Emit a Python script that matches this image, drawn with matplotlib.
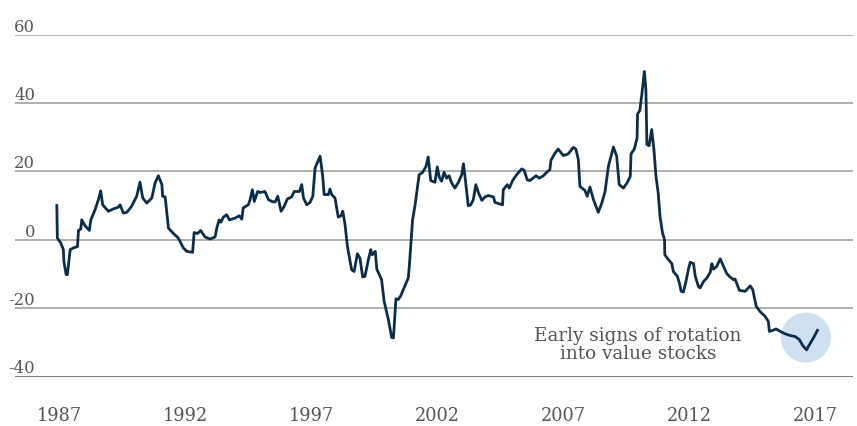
import matplotlib.pyplot as plt
import matplotlib.transforms as mtransforms

# relative performance (year, value)
years = [1986.91, 1986.93, 1987.07, 1987.17, 1987.19, 1987.28, 1987.33, 1987.44, 1987.57, 1987.73,
         1987.77, 1987.86, 1987.90, 1988.03, 1988.20, 1988.26, 1988.43, 1988.56, 1988.65, 1988.73,
         1988.96, 1989.15, 1989.35, 1989.42, 1989.55, 1989.69, 1989.88, 1990.08, 1990.21, 1990.32,
         1990.48, 1990.68, 1990.81, 1990.94, 1991.08, 1991.11, 1991.21, 1991.34, 1991.54, 1991.73,
         1991.93, 1992.07, 1992.30, 1992.36, 1992.49, 1992.62, 1992.79, 1992.99, 1993.19, 1993.26,
         1993.35, 1993.42, 1993.52, 1993.65, 1993.76, 1993.98, 1994.15, 1994.25, 1994.31, 1994.51,
         1994.58, 1994.67, 1994.75, 1994.88, 1994.98, 1995.17, 1995.31, 1995.44, 1995.57, 1995.68,
         1995.81, 1995.93, 1996.06, 1996.23, 1996.33, 1996.54, 1996.63, 1996.70, 1996.83, 1996.96,
         1997.07, 1997.16, 1997.36, 1997.46, 1997.52, 1997.69, 1997.75, 1997.82, 1997.95, 1998.08,
         1998.19, 1998.26, 1998.35, 1998.44, 1998.61, 1998.71, 1998.84, 1998.94, 1999.05, 1999.14,
         1999.27, 1999.37, 1999.43, 1999.55, 1999.61, 1999.80, 1999.90, 2000.07, 2000.20, 2000.27,
         2000.37, 2000.46, 2000.56, 2000.69, 2000.86, 2000.90, 2001.03, 2001.13, 2001.29, 2001.43,
         2001.56, 2001.65, 2001.75, 2001.92, 2002.01, 2002.09, 2002.18, 2002.28, 2002.38, 2002.48,
         2002.58, 2002.71, 2002.85, 2002.98, 2003.05, 2003.11, 2003.24, 2003.34, 2003.44, 2003.54,
         2003.64, 2003.78, 2003.90, 2004.04, 2004.24, 2004.30, 2004.47, 2004.60, 2004.63, 2004.79,
         2004.87, 2005.00, 2005.16, 2005.36, 2005.46, 2005.58, 2005.69, 2005.93, 2006.06, 2006.22,
         2006.35, 2006.48, 2006.52, 2006.68, 2006.81, 2007.01, 2007.21, 2007.41, 2007.51, 2007.61,
         2007.67, 2007.87, 2007.96, 2008.07, 2008.21, 2008.40, 2008.54, 2008.67, 2008.80, 2008.90,
         2009.00, 2009.13, 2009.23, 2009.40, 2009.54, 2009.67, 2009.70, 2009.83, 2009.94, 2009.96,
         2010.05, 2010.13, 2010.23, 2010.29, 2010.33, 2010.42, 2010.52, 2010.61, 2010.69, 2010.78,
         2010.85, 2010.95, 2011.03, 2011.04, 2011.18, 2011.32, 2011.38, 2011.54, 2011.62, 2011.69,
         2011.78, 2011.88, 2011.98, 2012.05, 2012.18, 2012.25, 2012.38, 2012.44, 2012.58, 2012.71,
         2012.84, 2012.91, 2012.97, 2013.10, 2013.24, 2013.37, 2013.50, 2013.63, 2013.77, 2013.83,
         2014.00, 2014.23, 2014.43, 2014.53, 2014.67, 2014.82, 2015.02, 2015.15, 2015.19, 2015.33,
         2015.46, 2015.62, 2015.81, 2016.01, 2016.21, 2016.38, 2016.52, 2016.67, 2016.74, 2016.94,
         2017.10]
values = [10.0, 0.5, -1.0, -2.9, -6.3, -10.2, -10.2, -2.9, -2.4, -2.0,
          2.7, 3.1, 5.8, 4.1, 2.7, 5.8, 8.8, 11.7, 14.3, 10.2,
          8.3, 9.0, 9.5, 10.2, 7.8, 8.0, 9.8, 12.7, 16.8, 12.2,
          10.7, 12.2, 16.6, 18.7, 16.1, 12.7, 12.5, 3.4, 1.8, 0.5,
          -2.4, -3.4, -3.7, 2.1, 1.8, 2.7, 0.8, 0.2, 0.8, 3.4,
          5.8, 5.1, 6.6, 7.3, 5.8, 6.3, 7.0, 6.0, 9.3, 10.2,
          11.7, 14.6, 11.2, 14.1, 13.8, 14.1, 11.7, 11.2, 11.0, 12.7,
          8.3, 9.7, 11.9, 12.5, 14.1, 14.1, 16.1, 12.2, 10.2, 10.9,
          12.7, 21.0, 24.4, 18.7, 13.2, 13.2, 14.8, 13.2, 12.2, 6.6,
          7.0, 8.3, 4.4, -1.8, -8.8, -9.3, -4.1, -5.4, -10.9, -10.7,
          -6.0, -2.9, -4.4, -3.4, -8.6, -11.7, -18.0, -23.4, -28.6, -28.7,
          -17.3, -17.5, -16.4, -14.1, -11.2, -7.8, 5.8, 10.2, 19.0, 19.7,
          21.4, 24.2, 17.3, 16.8, 21.3, 18.3, 17.1, 19.7, 18.0, 18.7,
          16.6, 15.1, 16.8, 19.0, 22.2, 18.5, 9.9, 10.2, 11.7, 16.1,
          13.8, 11.5, 12.5, 12.9, 12.5, 10.9, 10.5, 10.2, 14.6, 16.1,
          15.1, 17.3, 19.0, 20.7, 20.3, 17.5, 17.3, 18.7, 18.0, 18.7,
          19.7, 20.5, 23.2, 25.3, 26.5, 24.6, 25.1, 27.0, 26.5, 23.4,
          15.6, 14.4, 12.7, 15.4, 11.7, 8.0, 10.7, 14.1, 21.4, 24.2,
          27.1, 24.4, 16.1, 15.1, 16.6, 18.5, 25.1, 26.5, 29.7, 36.8,
          37.8, 42.6, 49.2, 43.9, 27.8, 27.5, 32.2, 26.3, 18.5, 13.6,
          6.8, 2.0, 0.0, -4.4, -5.8, -7.0, -9.3, -10.7, -12.7, -15.1,
          -15.3, -12.2, -8.6, -6.6, -7.0, -10.7, -13.8, -14.1, -12.2, -11.2,
          -9.6, -7.0, -8.6, -7.8, -5.6, -7.8, -9.9, -10.9, -11.7, -11.5,
          -14.8, -15.1, -13.5, -14.6, -19.5, -21.0, -22.4, -23.9, -26.8, -26.5,
          -26.1, -26.8, -27.5, -28.0, -28.3, -29.2, -31.0, -32.2, -31.2, -28.7,
          -26.5]

x_ticks = [1987, 1992, 1997, 2002, 2007, 2012, 2017]
y_ticks = [-40, -20, 0, 20, 40, 60]

note_text = "Early signs of rotation\ninto value stocks"
note_pos = (2009.98, -30.4)
circle_pos = (2016.64, -28.6)

serif = 'DejaVu Serif'
navy = '#0b2e4c'
grey_text = '#555555'

fig = plt.figure(figsize=(8.57, 4.27), dpi=100)
ax = fig.add_axes([15 / 857, 1 - 377.5 / 427, 838 / 857, 342 / 427])

ax.set_xlim(1985.25, 2018.51)
ax.set_ylim(-40, 60)

for v in y_ticks:
    ax.axhline(v, color='#9a9a9a' if v != -40 else '#555555', lw=1.1, zorder=1)

ax.plot(years, values, color=navy, lw=2.0, solid_joinstyle='round', zorder=3)

# highlight circle around the recent rebound
ax.scatter([circle_pos[0]], [circle_pos[1]], s=1300, color='#cfe0f1',
           edgecolors='none', zorder=2)
ax.text(note_pos[0], note_pos[1], note_text, ha='center', va='center',
        fontsize=13.2, family=serif, color=grey_text, linespacing=1.0)

# y labels sit just above their grid line, right-aligned near the left edge
trans = mtransforms.blended_transform_factory(ax.transAxes, ax.transData)
trans = trans + mtransforms.ScaledTranslation(0, 4 / 100, fig.dpi_scale_trans)
for v in y_ticks:
    ax.text(20 / 838, v, str(v), transform=trans, ha='right', va='baseline',
            fontsize=11.8, family=serif, color=grey_text)

ax.set_yticks([])
ax.set_xticks(x_ticks)
ax.set_xticklabels([str(t) for t in x_ticks], family=serif, fontsize=12.8, color=grey_text)
ax.tick_params(axis='x', length=0, pad=21)

for s in ax.spines.values():
    s.set_visible(False)

fig.savefig('out.png', dpi=100)
